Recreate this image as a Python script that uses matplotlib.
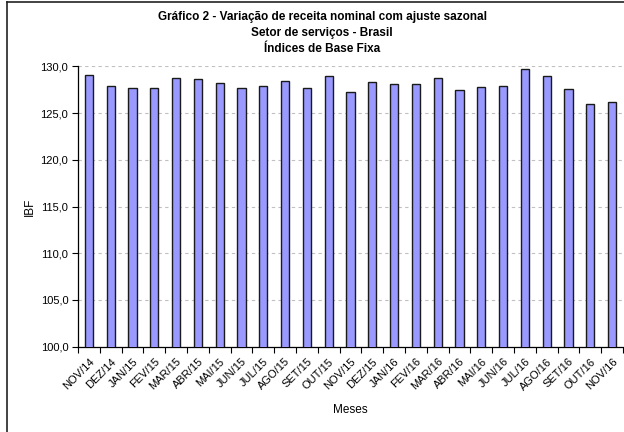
import matplotlib
matplotlib.use("Agg")
import matplotlib.pyplot as plt
from matplotlib.lines import Line2D
import numpy as np

meses = ["NOV/14", "DEZ/14", "JAN/15", "FEV/15", "MAR/15", "ABR/15", "MAI/15",
         "JUN/15", "JUL/15", "AGO/15", "SET/15", "OUT/15", "NOV/15", "DEZ/15",
         "JAN/16", "FEV/16", "MAR/16", "ABR/16", "MAI/16", "JUN/16", "JUL/16",
         "AGO/16", "SET/16", "OUT/16", "NOV/16"]
ibf = [129.05, 127.9, 127.7, 127.7, 128.8, 128.6, 128.2, 127.7, 127.9, 128.4,
       127.7, 128.95, 127.3, 128.3, 128.15, 128.15, 128.75, 127.5, 127.75,
       127.85, 129.7, 128.95, 127.6, 126.0, 126.2]
yticks = [100, 105, 110, 115, 120, 125, 130]

plt.rcParams['font.family'] = ['Liberation Sans Narrow', 'Liberation Sans', 'DejaVu Sans']

fig = plt.figure(figsize=(6.24, 4.32), dpi=100)
ax = fig.add_axes([78/624, 1-346.7/432, (623-78)/624, (346.7-66.3)/432])

x = np.arange(len(meses))
ax.bar(x, ibf, width=0.38, color='#9999FF', edgecolor='#1a1a1a', linewidth=1.0, zorder=3)

ax.set_xlim(-0.5, len(meses)-0.5)
ax.set_ylim(100, 130)
ax.set_yticks(yticks)
ax.set_yticklabels([f"{v:.1f}".replace('.', ',') for v in yticks], fontsize=8)
ax.yaxis.grid(True, linestyle=(0, (3, 3)), color='#c0c0c0', linewidth=0.8, zorder=0)

ax.set_xticks(x)
ax.set_xticklabels(meses, rotation=45, ha='right', rotation_mode='anchor', fontsize=8)
ax.tick_params(axis='x', which='major', length=0, pad=7)
ax.set_xticks(np.arange(-0.5, len(meses), 1), minor=True)
ax.tick_params(axis='x', which='minor', length=4, width=0.8, direction='out')
ax.tick_params(axis='y', length=4, width=0.8, direction='out', pad=3)

for s in ['top', 'right']:
    ax.spines[s].set_visible(False)
ax.spines['left'].set_linewidth(0.9)
ax.spines['bottom'].set_linewidth(0.9)

ax.set_xlabel("Meses", fontsize=8.5)
ax.xaxis.set_label_coords((350-78)/545, (346.7-404)/280.4)
ax.set_ylabel("IBF", fontsize=8.5)
ax.yaxis.set_label_coords((36-78)/545, 0.5)

cx = 322/624
fs = 8.5
fig.text(cx, 1-17/432, "Gráfico 2 - Variação de receita nominal com ajuste sazonal",
         ha='center', va='center', fontsize=fs, fontweight='bold')
fig.text(cx, 1-33/432, "Setor de serviços - Brasil",
         ha='center', va='center', fontsize=fs, fontweight='bold')
fig.text(cx, 1-48.5/432, "Índices de Base Fixa",
         ha='center', va='center', fontsize=fs, fontweight='bold')

fig.add_artist(Line2D([6.5/624, 6.5/624], [0, 1-2/432], color='#222222', linewidth=1.2))
fig.add_artist(Line2D([6.5/624, 1], [1-2/432, 1-2/432], color='#222222', linewidth=1.2))

fig.savefig("out.png", dpi=100)
